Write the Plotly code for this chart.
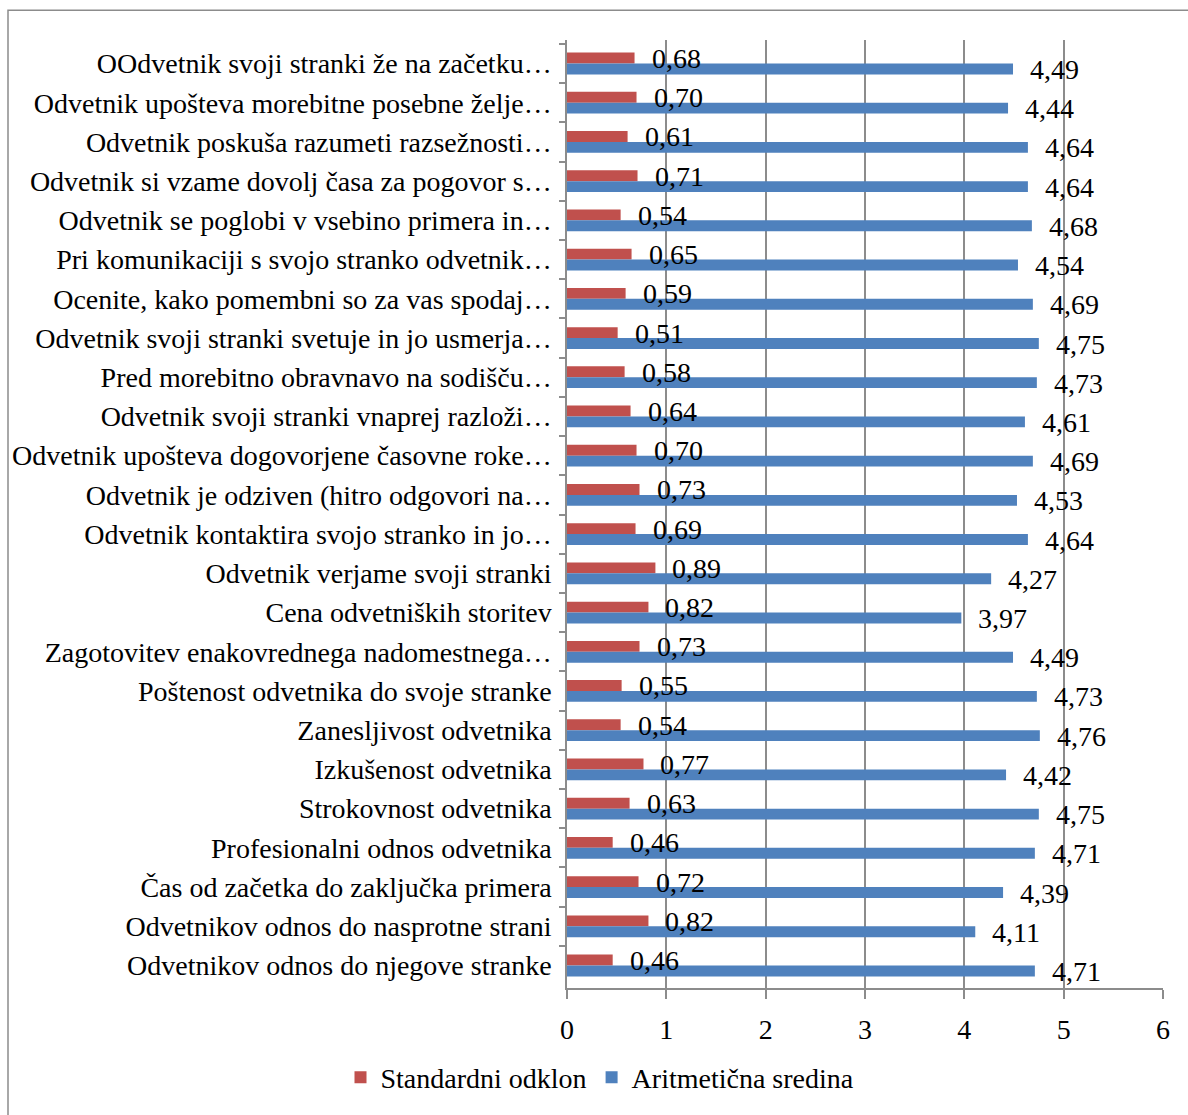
import plotly.graph_objects as go

categories = [
    "OOdvetnik svoji stranki že na začetku…",
    "Odvetnik upošteva morebitne posebne želje…",
    "Odvetnik poskuša razumeti razsežnosti…",
    "Odvetnik si vzame dovolj časa za pogovor s…",
    "Odvetnik se poglobi v vsebino primera in…",
    "Pri komunikaciji s svojo stranko odvetnik…",
    "Ocenite, kako pomembni so za vas spodaj…",
    "Odvetnik svoji stranki svetuje in jo usmerja…",
    "Pred morebitno obravnavo na sodišču…",
    "Odvetnik svoji stranki vnaprej razloži…",
    "Odvetnik upošteva dogovorjene časovne roke…",
    "Odvetnik je odziven (hitro odgovori na…",
    "Odvetnik kontaktira svojo stranko in jo…",
    "Odvetnik verjame svoji stranki",
    "Cena odvetniških storitev",
    "Zagotovitev enakovrednega nadomestnega…",
    "Poštenost odvetnika do svoje stranke",
    "Zanesljivost odvetnika",
    "Izkušenost odvetnika",
    "Strokovnost odvetnika",
    "Profesionalni odnos odvetnika",
    "Čas od začetka do zaključka primera",
    "Odvetnikov odnos do nasprotne strani",
    "Odvetnikov odnos do njegove stranke",
]

std_dev = [0.68, 0.70, 0.61, 0.71, 0.54, 0.65, 0.59, 0.51, 0.58, 0.64, 0.70, 0.73,
           0.69, 0.89, 0.82, 0.73, 0.55, 0.54, 0.77, 0.63, 0.46, 0.72, 0.82, 0.46]
mean = [4.49, 4.44, 4.64, 4.64, 4.68, 4.54, 4.69, 4.75, 4.73, 4.61, 4.69, 4.53,
        4.64, 4.27, 3.97, 4.49, 4.73, 4.76, 4.42, 4.75, 4.71, 4.39, 4.11, 4.71]

series_names = ["Standardni odklon", "Aritmetična sredina"]
x_ticks = [0, 1, 2, 3, 4, 5, 6]

RED = "#C0504D"
BLUE = "#4F81BD"
GRID = "#8C8C8C"
FONT = "Liberation Serif"
FS = 28


def fmt(v):
    return f"{v:.2f}".replace(".", ",")


fig = go.Figure()
fig.add_trace(go.Bar(y=categories, x=std_dev, orientation="h", name=series_names[0],
                     marker=dict(color=RED, line=dict(width=0))))
fig.add_trace(go.Bar(y=categories, x=mean, orientation="h", name=series_names[1],
                     marker=dict(color=BLUE, line=dict(width=0))))

annotations = []
for c, v in zip(categories, std_dev):
    annotations.append(dict(x=v, y=c, xref="x", yref="y", text=fmt(v), showarrow=False,
                            xanchor="left", yanchor="middle", xshift=15, yshift=5,
                            font=dict(family=FONT, size=FS, color="black")))
for c, v in zip(categories, mean):
    annotations.append(dict(x=v, y=c, xref="x", yref="y", text=fmt(v), showarrow=False,
                            xanchor="left", yanchor="middle", xshift=15, yshift=-6,
                            font=dict(family=FONT, size=FS, color="black")))

L, R, T, B = 567, 25, 40, 122
W, H = 1188, 1115
pw, ph = W - L - R, H - T - B


def xp(px):
    return (px - L) / pw


def yp(py):
    return (H - B - py) / ph


fig.update_layout(
    width=W, height=H,
    margin=dict(l=L, r=R, t=T, b=B),
    paper_bgcolor="white", plot_bgcolor="white",
    barmode="group", bargap=0.445, bargroupgap=0,
    font=dict(family=FONT, size=FS, color="black"),
    showlegend=True,
    legend=dict(orientation="h", x=xp(600), xanchor="center", y=yp(1083), yanchor="middle",
                font=dict(family=FONT, size=FS), itemwidth=30, traceorder="normal"),
    annotations=annotations,
    shapes=[dict(type="rect", xref="paper", yref="paper", x0=xp(8), x1=xp(1230),
                 y0=yp(1140), y1=yp(10), line=dict(color="#8C8C8C", width=1.5),
                 fillcolor="rgba(0,0,0,0)", layer="below")],
)

fig.update_xaxes(range=[0, 6], tickvals=x_ticks, ticktext=[str(t) for t in x_ticks],
                 showgrid=True, gridcolor=GRID, gridwidth=1.5,
                 showline=True, linecolor=GRID, linewidth=1.5,
                 ticks="outside", ticklen=9, tickcolor=GRID, tickwidth=1.5,
                 zeroline=False, tickfont=dict(family=FONT, size=FS), ticklabelstandoff=7)
fig.update_yaxes(type="category", autorange="reversed",
                 showline=True, linecolor=GRID, linewidth=1.5,
                 ticks="outside", ticklen=6, tickcolor=GRID, tickwidth=1.5, tickson="boundaries",
                 showgrid=False, tickfont=dict(family=FONT, size=FS), ticklabelstandoff=8)

fig.write_html("out.html")
